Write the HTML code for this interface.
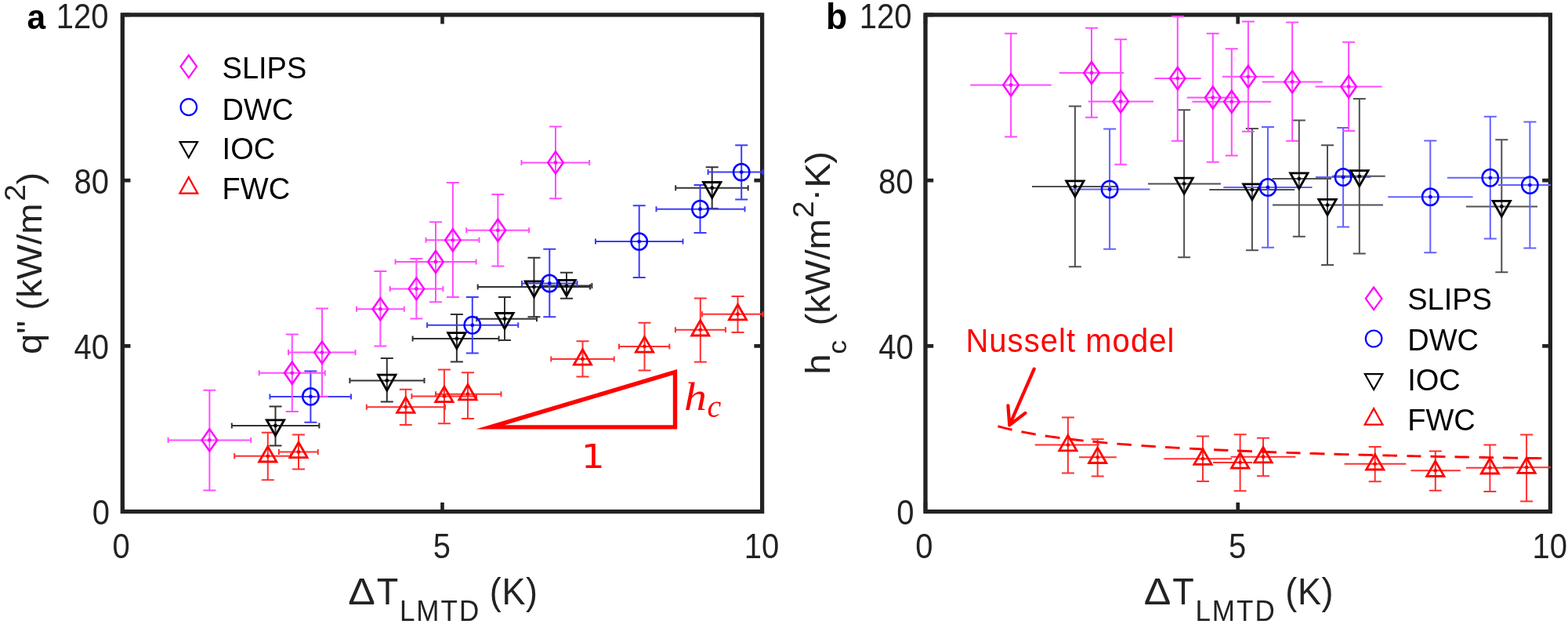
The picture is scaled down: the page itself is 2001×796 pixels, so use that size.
<!DOCTYPE html>
<html><head><meta charset="utf-8"><style>html,body{margin:0;padding:0;background:#fff;}svg{display:block;}</style></head><body>
<svg width="2001" height="796" viewBox="0 0 2001 796">
<rect width="2001" height="796" fill="#fff"/>
<rect x="156.3" y="18.9" width="816.3" height="633.7" fill="none" stroke="#222222" stroke-width="5.3"/>
<path d="M156.3 652.6V641.1M156.3 18.9V30.4M564.5 652.6V641.1M564.5 18.9V30.4M972.6 652.6V641.1M972.6 18.9V30.4M156.3 652.6H166.5M972.6 652.6H962.4M156.3 441.4H166.5M972.6 441.4H962.4M156.3 230.1H166.5M972.6 230.1H962.4M156.3 18.9H166.5M972.6 18.9H962.4" stroke="#222222" stroke-width="4.6" fill="none"/>
<rect x="1181" y="18.9" width="797.4" height="633.7" fill="none" stroke="#222222" stroke-width="5.3"/>
<path d="M1181 652.6V641.1M1181 18.9V30.4M1579.7 652.6V641.1M1579.7 18.9V30.4M1978.4 652.6V641.1M1978.4 18.9V30.4M1181 652.6H1191.2M1978.4 652.6H1968.2M1181 441.4H1191.2M1978.4 441.4H1968.2M1181 230.1H1191.2M1978.4 230.1H1968.2M1181 18.9H1191.2M1978.4 18.9H1968.2" stroke="#222222" stroke-width="4.6" fill="none"/>
<text transform="translate(154.7 711.8) scale(1 1.09)" font-family="'Liberation Sans', Arial, sans-serif" font-size="40" fill="#222222" text-anchor="middle">0</text>
<text transform="translate(563.8 711.8) scale(1 1.09)" font-family="'Liberation Sans', Arial, sans-serif" font-size="40" fill="#222222" text-anchor="middle">5</text>
<text transform="translate(971.9 711.8) scale(1 1.09)" font-family="'Liberation Sans', Arial, sans-serif" font-size="40" fill="#222222" text-anchor="middle">10</text>
<text transform="translate(140 669.4) scale(1 1.09)" font-family="'Liberation Sans', Arial, sans-serif" font-size="40" fill="#222222" text-anchor="end">0</text>
<text transform="translate(138.9 458.2) scale(1 1.09)" font-family="'Liberation Sans', Arial, sans-serif" font-size="40" fill="#222222" text-anchor="end">40</text>
<text transform="translate(138.9 246.9) scale(1 1.09)" font-family="'Liberation Sans', Arial, sans-serif" font-size="40" fill="#222222" text-anchor="end">80</text>
<text transform="translate(138.5 35.7) scale(1 1.09)" font-family="'Liberation Sans', Arial, sans-serif" font-size="40" fill="#222222" text-anchor="end">120</text>
<text transform="translate(1179.4 711.8) scale(1 1.09)" font-family="'Liberation Sans', Arial, sans-serif" font-size="40" fill="#222222" text-anchor="middle">0</text>
<text transform="translate(1579 711.8) scale(1 1.09)" font-family="'Liberation Sans', Arial, sans-serif" font-size="40" fill="#222222" text-anchor="middle">5</text>
<text transform="translate(1977.7 711.8) scale(1 1.09)" font-family="'Liberation Sans', Arial, sans-serif" font-size="40" fill="#222222" text-anchor="middle">10</text>
<text transform="translate(1166.4 669.4) scale(1 1.09)" font-family="'Liberation Sans', Arial, sans-serif" font-size="40" fill="#222222" text-anchor="end">0</text>
<text transform="translate(1165.7 458.2) scale(1 1.09)" font-family="'Liberation Sans', Arial, sans-serif" font-size="40" fill="#222222" text-anchor="end">40</text>
<text transform="translate(1165.4 246.9) scale(1 1.09)" font-family="'Liberation Sans', Arial, sans-serif" font-size="40" fill="#222222" text-anchor="end">80</text>
<text transform="translate(1163.5 35.7) scale(1 1.09)" font-family="'Liberation Sans', Arial, sans-serif" font-size="40" fill="#222222" text-anchor="end">120</text>
<path d="M341.8 551.7V612.3M299.2 581.8H371M333.8 551.7H349.8M333.8 612.3H349.8M299.2 578.3V585.3M371 578.3V585.3" stroke="#ff3030" stroke-width="2" fill="none"/>
<path d="M381 554.6V598.4M355.9 576.4H405.8M373 554.6H389M373 598.4H389M355.9 572.9V579.9M405.8 572.9V579.9" stroke="#ff3030" stroke-width="2" fill="none"/>
<path d="M517.8 496.8V542.1M467.8 519.2H568M509.8 496.8H525.8M509.8 542.1H525.8M467.8 515.7V522.7M568 515.7V522.7" stroke="#ff3030" stroke-width="2" fill="none"/>
<path d="M566.9 471.4V540.3M525.4 505.4H608M558.9 471.4H574.9M558.9 540.3H574.9M525.4 501.9V508.9M608 501.9V508.9" stroke="#ff3030" stroke-width="2" fill="none"/>
<path d="M597 475.3V534M556 502.7H639.5M589 475.3H605M589 534H605M556 499.2V506.2M639.5 499.2V506.2" stroke="#ff3030" stroke-width="2" fill="none"/>
<path d="M743.5 435.3V480.5M703.3 458H783.7M735.5 435.3H751.5M735.5 480.5H751.5M703.3 454.5V461.5M783.7 454.5V461.5" stroke="#ff3030" stroke-width="2" fill="none"/>
<path d="M822.5 411.8V472.5M790 441.9H854.3M814.5 411.8H830.5M814.5 472.5H830.5M790 438.4V445.4M854.3 438.4V445.4" stroke="#ff3030" stroke-width="2" fill="none"/>
<path d="M893.8 380.4V461.8M861.9 420.8H925.9M885.8 380.4H901.8M885.8 461.8H901.8M861.9 417.3V424.3M925.9 417.3V424.3" stroke="#ff3030" stroke-width="2" fill="none"/>
<path d="M941.5 378.1V424.1M896.1 400.7H973.5M933.5 378.1H949.5M933.5 424.1H949.5M896.1 397.2V404.2M973.5 397.2V404.2" stroke="#ff3030" stroke-width="2" fill="none"/>
<path d="M351.5 518.4V568.4M295.8 543H407.4M343.5 518.4H359.5M343.5 568.4H359.5M295.8 539.5V546.5M407.4 539.5V546.5" stroke="#333333" stroke-width="2" fill="none"/>
<path d="M493.8 457V512.5M446.4 485.4H541.5M485.8 457H501.8M485.8 512.5H501.8M446.4 481.9V488.9M541.5 481.9V488.9" stroke="#333333" stroke-width="2" fill="none"/>
<path d="M582.9 401.1V461.4M526.6 431.9H636.6M574.9 401.1H590.9M574.9 461.4H590.9M526.6 428.4V435.4M636.6 428.4V435.4" stroke="#333333" stroke-width="2" fill="none"/>
<path d="M644 379.1V433.9M608.4 406.7H685M636 379.1H652M636 433.9H652M608.4 403.2V410.2M685 403.2V410.2" stroke="#333333" stroke-width="2" fill="none"/>
<path d="M681.5 328.7V404.2M609.7 366H753M673.5 328.7H689.5M673.5 404.2H689.5M609.7 362.5V369.5M753 362.5V369.5" stroke="#333333" stroke-width="2" fill="none"/>
<path d="M723 347.8V380.7M690 364.6H755.4M715 347.8H731M715 380.7H731M690 361.1V368.1M755.4 361.1V368.1" stroke="#333333" stroke-width="2" fill="none"/>
<path d="M908.7 213.3V266.1M862.2 239.7H954.7M900.7 213.3H916.7M900.7 266.1H916.7M862.2 236.2V243.2M954.7 236.2V243.2" stroke="#333333" stroke-width="2" fill="none"/>
<path d="M396.4 473.5V538.7M344.4 505.9H448M388.4 473.5H404.4M388.4 538.7H404.4M344.4 502.4V509.4M448 502.4V509.4" stroke="#3c3cff" stroke-width="2" fill="none"/>
<path d="M602.8 379V450.4M545.1 414.8H661.3M594.8 379H610.8M594.8 450.4H610.8M545.1 411.3V418.3M661.3 411.3V418.3" stroke="#3c3cff" stroke-width="2" fill="none"/>
<path d="M701.3 317.8V404.3M666 361.5H736.5M693.3 317.8H709.3M693.3 404.3H709.3M666 358V365M736.5 358V365" stroke="#3c3cff" stroke-width="2" fill="none"/>
<path d="M815.7 262.2V353.9M760 308.1H871.5M807.7 262.2H823.7M807.7 353.9H823.7M760 304.6V311.6M871.5 304.6V311.6" stroke="#3c3cff" stroke-width="2" fill="none"/>
<path d="M893.5 236.1V297.1M837.5 266.7H950.5M885.5 236.1H901.5M885.5 297.1H901.5M837.5 263.2V270.2M950.5 263.2V270.2" stroke="#3c3cff" stroke-width="2" fill="none"/>
<path d="M946.2 185.2V254.5M903.6 219.6H973.5M938.2 185.2H954.2M938.2 254.5H954.2M903.6 216.1V223.1M973.5 216.1V223.1" stroke="#3c3cff" stroke-width="2" fill="none"/>
<path d="M267.4 497.7V625.6M214.6 561.4H320.2M259.4 497.7H275.4M259.4 625.6H275.4M214.6 557.9V564.9M320.2 557.9V564.9" stroke="#ff4dff" stroke-width="2" fill="none"/>
<path d="M372.8 426.4V524.9M330.7 475.8H414.8M364.8 426.4H380.8M364.8 524.9H380.8M330.7 472.3V479.3M414.8 472.3V479.3" stroke="#ff4dff" stroke-width="2" fill="none"/>
<path d="M411 393.4V505.8M368 449.6H453.5M403 393.4H419M403 505.8H419M368 446.1V453.1M453.5 446.1V453.1" stroke="#ff4dff" stroke-width="2" fill="none"/>
<path d="M485.4 346.1V441.6M455.1 394.3H515.8M477.4 346.1H493.4M477.4 441.6H493.4M455.1 390.8V397.8M515.8 390.8V397.8" stroke="#ff4dff" stroke-width="2" fill="none"/>
<path d="M531.4 330V406.6M497.7 368.4H565.4M523.4 330H539.4M523.4 406.6H539.4M497.7 364.9V371.9M565.4 364.9V371.9" stroke="#ff4dff" stroke-width="2" fill="none"/>
<path d="M556 283.2V385.2M504.6 334H607.6M548 283.2H564M548 385.2H564M504.6 330.5V337.5M607.6 330.5V337.5" stroke="#ff4dff" stroke-width="2" fill="none"/>
<path d="M577.9 232.9V379M543.5 306.3H611.5M569.9 232.9H585.9M569.9 379H585.9M543.5 302.8V309.8M611.5 302.8V309.8" stroke="#ff4dff" stroke-width="2" fill="none"/>
<path d="M635.4 248.1V339.4M595.2 293.8H675.2M627.4 248.1H643.4M627.4 339.4H643.4M595.2 290.3V297.3M675.2 290.3V297.3" stroke="#ff4dff" stroke-width="2" fill="none"/>
<path d="M709 161.6V253.2M665.5 207.4H752.1M701 161.6H717M701 253.2H717M665.5 203.9V210.9M752.1 203.9V210.9" stroke="#ff4dff" stroke-width="2" fill="none"/>
<polygon points="341.8,569.6 352.9,589 330.7,589" fill="none" stroke="#ff0000" stroke-width="2.8" stroke-linejoin="miter" stroke-miterlimit="10"/>
<polygon points="381,564.2 392.1,583.6 369.9,583.6" fill="none" stroke="#ff0000" stroke-width="2.8" stroke-linejoin="miter" stroke-miterlimit="10"/>
<polygon points="517.8,507 528.9,526.4 506.7,526.4" fill="none" stroke="#ff0000" stroke-width="2.8" stroke-linejoin="miter" stroke-miterlimit="10"/>
<polygon points="566.9,493.2 578,512.6 555.8,512.6" fill="none" stroke="#ff0000" stroke-width="2.8" stroke-linejoin="miter" stroke-miterlimit="10"/>
<polygon points="597,490.5 608.1,509.9 585.9,509.9" fill="none" stroke="#ff0000" stroke-width="2.8" stroke-linejoin="miter" stroke-miterlimit="10"/>
<polygon points="743.5,445.8 754.6,465.2 732.4,465.2" fill="none" stroke="#ff0000" stroke-width="2.8" stroke-linejoin="miter" stroke-miterlimit="10"/>
<polygon points="822.5,429.7 833.6,449.1 811.4,449.1" fill="none" stroke="#ff0000" stroke-width="2.8" stroke-linejoin="miter" stroke-miterlimit="10"/>
<polygon points="893.8,408.6 904.9,428 882.7,428" fill="none" stroke="#ff0000" stroke-width="2.8" stroke-linejoin="miter" stroke-miterlimit="10"/>
<polygon points="941.5,388.5 952.6,407.9 930.4,407.9" fill="none" stroke="#ff0000" stroke-width="2.8" stroke-linejoin="miter" stroke-miterlimit="10"/>
<polygon points="340.3,535.8 362.7,535.8 351.5,555.7" fill="none" stroke="#000000" stroke-width="2.8" stroke-linejoin="miter" stroke-miterlimit="10"/>
<polygon points="482.6,478.2 505,478.2 493.8,498.1" fill="none" stroke="#000000" stroke-width="2.8" stroke-linejoin="miter" stroke-miterlimit="10"/>
<polygon points="571.7,424.7 594.1,424.7 582.9,444.6" fill="none" stroke="#000000" stroke-width="2.8" stroke-linejoin="miter" stroke-miterlimit="10"/>
<polygon points="632.8,399.5 655.2,399.5 644,419.4" fill="none" stroke="#000000" stroke-width="2.8" stroke-linejoin="miter" stroke-miterlimit="10"/>
<polygon points="670.3,358.8 692.7,358.8 681.5,378.7" fill="none" stroke="#000000" stroke-width="2.8" stroke-linejoin="miter" stroke-miterlimit="10"/>
<polygon points="711.8,357.4 734.2,357.4 723,377.3" fill="none" stroke="#000000" stroke-width="2.8" stroke-linejoin="miter" stroke-miterlimit="10"/>
<polygon points="897.5,232.5 919.9,232.5 908.7,252.4" fill="none" stroke="#000000" stroke-width="2.8" stroke-linejoin="miter" stroke-miterlimit="10"/>
<ellipse cx="396.4" cy="505.9" rx="10.2" ry="10.7" fill="none" stroke="#0000ff" stroke-width="2.5"/>
<ellipse cx="602.8" cy="414.8" rx="10.2" ry="10.7" fill="none" stroke="#0000ff" stroke-width="2.5"/>
<ellipse cx="701.3" cy="361.5" rx="10.2" ry="10.7" fill="none" stroke="#0000ff" stroke-width="2.5"/>
<ellipse cx="815.7" cy="308.1" rx="10.2" ry="10.7" fill="none" stroke="#0000ff" stroke-width="2.5"/>
<ellipse cx="893.5" cy="266.7" rx="10.2" ry="10.7" fill="none" stroke="#0000ff" stroke-width="2.5"/>
<ellipse cx="946.2" cy="219.6" rx="10.2" ry="10.7" fill="none" stroke="#0000ff" stroke-width="2.5"/>
<polygon points="267.4,547.4 277.2,561.4 267.4,575.4 257.6,561.4" fill="none" stroke="#ff00ff" stroke-width="2.5" stroke-linejoin="miter"/>
<polygon points="372.8,461.8 382.6,475.8 372.8,489.8 363,475.8" fill="none" stroke="#ff00ff" stroke-width="2.5" stroke-linejoin="miter"/>
<polygon points="411,435.6 420.8,449.6 411,463.6 401.2,449.6" fill="none" stroke="#ff00ff" stroke-width="2.5" stroke-linejoin="miter"/>
<polygon points="485.4,380.3 495.2,394.3 485.4,408.3 475.6,394.3" fill="none" stroke="#ff00ff" stroke-width="2.5" stroke-linejoin="miter"/>
<polygon points="531.4,354.4 541.2,368.4 531.4,382.4 521.6,368.4" fill="none" stroke="#ff00ff" stroke-width="2.5" stroke-linejoin="miter"/>
<polygon points="556,320 565.8,334 556,348 546.2,334" fill="none" stroke="#ff00ff" stroke-width="2.5" stroke-linejoin="miter"/>
<polygon points="577.9,292.3 587.7,306.3 577.9,320.3 568.1,306.3" fill="none" stroke="#ff00ff" stroke-width="2.5" stroke-linejoin="miter"/>
<polygon points="635.4,279.8 645.2,293.8 635.4,307.8 625.6,293.8" fill="none" stroke="#ff00ff" stroke-width="2.5" stroke-linejoin="miter"/>
<polygon points="709,193.4 718.8,207.4 709,221.4 699.2,207.4" fill="none" stroke="#ff00ff" stroke-width="2.5" stroke-linejoin="miter"/>
<circle cx="341.8" cy="581.8" r="2.4" fill="#ff0000"/>
<circle cx="381" cy="576.4" r="2.4" fill="#ff0000"/>
<circle cx="517.8" cy="519.2" r="2.4" fill="#ff0000"/>
<circle cx="566.9" cy="505.4" r="2.4" fill="#ff0000"/>
<circle cx="597" cy="502.7" r="2.4" fill="#ff0000"/>
<circle cx="743.5" cy="458" r="2.4" fill="#ff0000"/>
<circle cx="822.5" cy="441.9" r="2.4" fill="#ff0000"/>
<circle cx="893.8" cy="420.8" r="2.4" fill="#ff0000"/>
<circle cx="941.5" cy="400.7" r="2.4" fill="#ff0000"/>
<circle cx="351.5" cy="543" r="2.4" fill="#000000"/>
<circle cx="493.8" cy="485.4" r="2.4" fill="#000000"/>
<circle cx="582.9" cy="431.9" r="2.4" fill="#000000"/>
<circle cx="644" cy="406.7" r="2.4" fill="#000000"/>
<circle cx="681.5" cy="366" r="2.4" fill="#000000"/>
<circle cx="723" cy="364.6" r="2.4" fill="#000000"/>
<circle cx="908.7" cy="239.7" r="2.4" fill="#000000"/>
<circle cx="396.4" cy="505.9" r="2.4" fill="#0000ff"/>
<circle cx="602.8" cy="414.8" r="2.4" fill="#0000ff"/>
<circle cx="701.3" cy="361.5" r="2.4" fill="#0000ff"/>
<circle cx="815.7" cy="308.1" r="2.4" fill="#0000ff"/>
<circle cx="893.5" cy="266.7" r="2.4" fill="#0000ff"/>
<circle cx="946.2" cy="219.6" r="2.4" fill="#0000ff"/>
<circle cx="267.4" cy="561.4" r="2.4" fill="#ff00ff"/>
<circle cx="372.8" cy="475.8" r="2.4" fill="#ff00ff"/>
<circle cx="411" cy="449.6" r="2.4" fill="#ff00ff"/>
<circle cx="485.4" cy="394.3" r="2.4" fill="#ff00ff"/>
<circle cx="531.4" cy="368.4" r="2.4" fill="#ff00ff"/>
<circle cx="556" cy="334" r="2.4" fill="#ff00ff"/>
<circle cx="577.9" cy="306.3" r="2.4" fill="#ff00ff"/>
<circle cx="635.4" cy="293.8" r="2.4" fill="#ff00ff"/>
<circle cx="709" cy="207.4" r="2.4" fill="#ff00ff"/>
<path d="M1362.9 532.6V603.4M1320.7 567.6H1403M1354.9 532.6H1370.9M1354.9 603.4H1370.9" stroke="#ff3030" stroke-width="2" fill="none"/>
<path d="M1400.7 560.2V607.4M1377 583.3H1424.8M1392.7 560.2H1408.7M1392.7 607.4H1408.7" stroke="#ff3030" stroke-width="2" fill="none"/>
<path d="M1535 556.4V614M1485.3 585.2H1572M1527 556.4H1543M1527 614H1543" stroke="#ff3030" stroke-width="2" fill="none"/>
<path d="M1582.6 554.2V626.3M1548 590H1598.2M1574.6 554.2H1590.6M1574.6 626.3H1590.6" stroke="#ff3030" stroke-width="2" fill="none"/>
<path d="M1612 558.8V607.3M1570.6 582.7H1653.3M1604 558.8H1620M1604 607.3H1620" stroke="#ff3030" stroke-width="2" fill="none"/>
<path d="M1754.7 570.1V614.2M1715.6 591.8H1794.3M1746.7 570.1H1762.7M1746.7 614.2H1762.7" stroke="#ff3030" stroke-width="2" fill="none"/>
<path d="M1831.8 575.6V625.7M1800.4 600.3H1863.9M1823.8 575.6H1839.8M1823.8 625.7H1839.8" stroke="#ff3030" stroke-width="2" fill="none"/>
<path d="M1901.4 567.4V627.1M1870.9 596.8H1932M1893.4 567.4H1909.4M1893.4 627.1H1909.4" stroke="#ff3030" stroke-width="2" fill="none"/>
<path d="M1948.1 554.6V639.5M1918 596.2H1979M1940.1 554.6H1956.1M1940.1 639.5H1956.1" stroke="#ff3030" stroke-width="2" fill="none"/>
<path d="M1371.9 135.6V340.3M1317 238H1427.2M1363.9 135.6H1379.9M1363.9 340.3H1379.9" stroke="#505050" stroke-width="2" fill="none"/>
<path d="M1511.1 140.2V328.2M1465 234.4H1557.9M1503.1 140.2H1519.1M1503.1 328.2H1519.1" stroke="#505050" stroke-width="2" fill="none"/>
<path d="M1597.9 164.1V319.2M1543.2 242.1H1652.2M1589.9 164.1H1605.9M1589.9 319.2H1605.9" stroke="#505050" stroke-width="2" fill="none"/>
<path d="M1657.8 153.6V301.7M1623.6 228H1699M1649.8 153.6H1665.8M1649.8 301.7H1665.8" stroke="#505050" stroke-width="2" fill="none"/>
<path d="M1694 185.2V337.9M1624 261.6H1764.9M1686 185.2H1702M1686 337.9H1702" stroke="#505050" stroke-width="2" fill="none"/>
<path d="M1734.8 126.1V323.6M1700 224.8H1767.7M1726.8 126.1H1742.8M1726.8 323.6H1742.8" stroke="#505050" stroke-width="2" fill="none"/>
<path d="M1916.3 178.3V347.3M1870.9 263.5H1962M1908.3 178.3H1924.3M1908.3 347.3H1924.3" stroke="#505050" stroke-width="2" fill="none"/>
<path d="M1416.1 164.5V317.8M1364.5 241.5H1467.4M1408.1 164.5H1424.1M1408.1 317.8H1424.1" stroke="#6262ff" stroke-width="2" fill="none"/>
<path d="M1618 162.1V315.8M1561.3 239H1674.5M1610 162.1H1626M1610 315.8H1626" stroke="#6262ff" stroke-width="2" fill="none"/>
<path d="M1714.1 163.1V289.4M1678.9 226H1749.2M1706.1 163.1H1722.1M1706.1 289.4H1722.1" stroke="#6262ff" stroke-width="2" fill="none"/>
<path d="M1825.3 179.6V322.2M1771.2 251.2H1879.6M1817.3 179.6H1833.3M1817.3 322.2H1833.3" stroke="#6262ff" stroke-width="2" fill="none"/>
<path d="M1901.8 148.8V304.4M1846.9 226.8H1952M1893.8 148.8H1909.8M1893.8 304.4H1909.8" stroke="#6262ff" stroke-width="2" fill="none"/>
<path d="M1952.4 155.4V316.4M1912 236.1H1979M1944.4 155.4H1960.4M1944.4 316.4H1960.4" stroke="#6262ff" stroke-width="2" fill="none"/>
<path d="M1290.1 42.7V174.6M1238.2 108.4H1341.8M1282.1 42.7H1298.1M1282.1 174.6H1298.1" stroke="#ff4dff" stroke-width="2" fill="none"/>
<path d="M1393 35.7V149.8M1351.8 93H1434.2M1385 35.7H1401M1385 149.8H1401" stroke="#ff4dff" stroke-width="2" fill="none"/>
<path d="M1430.2 50.2V209.7M1388.6 129.5H1472M1422.2 50.2H1438.2M1422.2 209.7H1438.2" stroke="#ff4dff" stroke-width="2" fill="none"/>
<path d="M1502.8 21V179.7M1473.4 100H1532.7M1494.8 21H1510.8M1494.8 179.7H1510.8" stroke="#ff4dff" stroke-width="2" fill="none"/>
<path d="M1547.8 42.7V206.7M1514.7 124.5H1580.4M1539.8 42.7H1555.8M1539.8 206.7H1555.8" stroke="#ff4dff" stroke-width="2" fill="none"/>
<path d="M1571.8 62.2V198.4M1521.4 129.8H1622.2M1563.8 62.2H1579.8M1563.8 198.4H1579.8" stroke="#ff4dff" stroke-width="2" fill="none"/>
<path d="M1592.9 27.6V167.7M1559.9 97.8H1626.2M1584.9 27.6H1600.9M1584.9 167.7H1600.9" stroke="#ff4dff" stroke-width="2" fill="none"/>
<path d="M1649.1 28.6V179.7M1610.6 104.4H1687.9M1641.1 28.6H1657.1M1641.1 179.7H1657.1" stroke="#ff4dff" stroke-width="2" fill="none"/>
<path d="M1721.1 53.8V167.1M1678.5 110.5H1763.7M1713.1 53.8H1729.1M1713.1 167.1H1729.1" stroke="#ff4dff" stroke-width="2" fill="none"/>
<polygon points="1362.9,555.4 1374,574.8 1351.8,574.8" fill="none" stroke="#ff0000" stroke-width="2.8" stroke-linejoin="miter" stroke-miterlimit="10"/>
<polygon points="1400.7,571.1 1411.8,590.5 1389.6,590.5" fill="none" stroke="#ff0000" stroke-width="2.8" stroke-linejoin="miter" stroke-miterlimit="10"/>
<polygon points="1535,573 1546.1,592.4 1523.9,592.4" fill="none" stroke="#ff0000" stroke-width="2.8" stroke-linejoin="miter" stroke-miterlimit="10"/>
<polygon points="1582.6,577.8 1593.7,597.2 1571.5,597.2" fill="none" stroke="#ff0000" stroke-width="2.8" stroke-linejoin="miter" stroke-miterlimit="10"/>
<polygon points="1612,570.5 1623.1,589.9 1600.9,589.9" fill="none" stroke="#ff0000" stroke-width="2.8" stroke-linejoin="miter" stroke-miterlimit="10"/>
<polygon points="1754.7,579.6 1765.8,599 1743.6,599" fill="none" stroke="#ff0000" stroke-width="2.8" stroke-linejoin="miter" stroke-miterlimit="10"/>
<polygon points="1831.8,588.1 1842.9,607.5 1820.7,607.5" fill="none" stroke="#ff0000" stroke-width="2.8" stroke-linejoin="miter" stroke-miterlimit="10"/>
<polygon points="1901.4,584.6 1912.5,604 1890.3,604" fill="none" stroke="#ff0000" stroke-width="2.8" stroke-linejoin="miter" stroke-miterlimit="10"/>
<polygon points="1948.1,584 1959.2,603.4 1937,603.4" fill="none" stroke="#ff0000" stroke-width="2.8" stroke-linejoin="miter" stroke-miterlimit="10"/>
<polygon points="1360.7,230.8 1383.1,230.8 1371.9,250.7" fill="none" stroke="#000000" stroke-width="2.8" stroke-linejoin="miter" stroke-miterlimit="10"/>
<polygon points="1499.9,227.2 1522.3,227.2 1511.1,247.1" fill="none" stroke="#000000" stroke-width="2.8" stroke-linejoin="miter" stroke-miterlimit="10"/>
<polygon points="1586.7,234.9 1609.1,234.9 1597.9,254.8" fill="none" stroke="#000000" stroke-width="2.8" stroke-linejoin="miter" stroke-miterlimit="10"/>
<polygon points="1646.6,220.8 1669,220.8 1657.8,240.7" fill="none" stroke="#000000" stroke-width="2.8" stroke-linejoin="miter" stroke-miterlimit="10"/>
<polygon points="1682.8,254.4 1705.2,254.4 1694,274.3" fill="none" stroke="#000000" stroke-width="2.8" stroke-linejoin="miter" stroke-miterlimit="10"/>
<polygon points="1723.6,217.6 1746,217.6 1734.8,237.5" fill="none" stroke="#000000" stroke-width="2.8" stroke-linejoin="miter" stroke-miterlimit="10"/>
<polygon points="1905.1,256.3 1927.5,256.3 1916.3,276.2" fill="none" stroke="#000000" stroke-width="2.8" stroke-linejoin="miter" stroke-miterlimit="10"/>
<ellipse cx="1416.1" cy="241.5" rx="10.2" ry="10.7" fill="none" stroke="#0000ff" stroke-width="2.5"/>
<ellipse cx="1618" cy="239" rx="10.2" ry="10.7" fill="none" stroke="#0000ff" stroke-width="2.5"/>
<ellipse cx="1714.1" cy="226" rx="10.2" ry="10.7" fill="none" stroke="#0000ff" stroke-width="2.5"/>
<ellipse cx="1825.3" cy="251.2" rx="10.2" ry="10.7" fill="none" stroke="#0000ff" stroke-width="2.5"/>
<ellipse cx="1901.8" cy="226.8" rx="10.2" ry="10.7" fill="none" stroke="#0000ff" stroke-width="2.5"/>
<ellipse cx="1952.4" cy="236.1" rx="10.2" ry="10.7" fill="none" stroke="#0000ff" stroke-width="2.5"/>
<polygon points="1290.1,94.4 1299.9,108.4 1290.1,122.4 1280.3,108.4" fill="none" stroke="#ff00ff" stroke-width="2.5" stroke-linejoin="miter"/>
<polygon points="1393,79 1402.8,93 1393,107 1383.2,93" fill="none" stroke="#ff00ff" stroke-width="2.5" stroke-linejoin="miter"/>
<polygon points="1430.2,115.5 1440,129.5 1430.2,143.5 1420.4,129.5" fill="none" stroke="#ff00ff" stroke-width="2.5" stroke-linejoin="miter"/>
<polygon points="1502.8,86 1512.6,100 1502.8,114 1493,100" fill="none" stroke="#ff00ff" stroke-width="2.5" stroke-linejoin="miter"/>
<polygon points="1547.8,110.5 1557.6,124.5 1547.8,138.5 1538,124.5" fill="none" stroke="#ff00ff" stroke-width="2.5" stroke-linejoin="miter"/>
<polygon points="1571.8,115.8 1581.6,129.8 1571.8,143.8 1562,129.8" fill="none" stroke="#ff00ff" stroke-width="2.5" stroke-linejoin="miter"/>
<polygon points="1592.9,83.8 1602.7,97.8 1592.9,111.8 1583.1,97.8" fill="none" stroke="#ff00ff" stroke-width="2.5" stroke-linejoin="miter"/>
<polygon points="1649.1,90.4 1658.9,104.4 1649.1,118.4 1639.3,104.4" fill="none" stroke="#ff00ff" stroke-width="2.5" stroke-linejoin="miter"/>
<polygon points="1721.1,96.5 1730.9,110.5 1721.1,124.5 1711.3,110.5" fill="none" stroke="#ff00ff" stroke-width="2.5" stroke-linejoin="miter"/>
<circle cx="1362.9" cy="567.6" r="2.4" fill="#ff0000"/>
<circle cx="1400.7" cy="583.3" r="2.4" fill="#ff0000"/>
<circle cx="1535" cy="585.2" r="2.4" fill="#ff0000"/>
<circle cx="1582.6" cy="590" r="2.4" fill="#ff0000"/>
<circle cx="1612" cy="582.7" r="2.4" fill="#ff0000"/>
<circle cx="1754.7" cy="591.8" r="2.4" fill="#ff0000"/>
<circle cx="1831.8" cy="600.3" r="2.4" fill="#ff0000"/>
<circle cx="1901.4" cy="596.8" r="2.4" fill="#ff0000"/>
<circle cx="1948.1" cy="596.2" r="2.4" fill="#ff0000"/>
<circle cx="1371.9" cy="238" r="2.4" fill="#000000"/>
<circle cx="1511.1" cy="234.4" r="2.4" fill="#000000"/>
<circle cx="1597.9" cy="242.1" r="2.4" fill="#000000"/>
<circle cx="1657.8" cy="228" r="2.4" fill="#000000"/>
<circle cx="1694" cy="261.6" r="2.4" fill="#000000"/>
<circle cx="1734.8" cy="224.8" r="2.4" fill="#000000"/>
<circle cx="1916.3" cy="263.5" r="2.4" fill="#000000"/>
<circle cx="1416.1" cy="241.5" r="2.4" fill="#0000ff"/>
<circle cx="1618" cy="239" r="2.4" fill="#0000ff"/>
<circle cx="1714.1" cy="226" r="2.4" fill="#0000ff"/>
<circle cx="1825.3" cy="251.2" r="2.4" fill="#0000ff"/>
<circle cx="1901.8" cy="226.8" r="2.4" fill="#0000ff"/>
<circle cx="1952.4" cy="236.1" r="2.4" fill="#0000ff"/>
<circle cx="1290.1" cy="108.4" r="2.4" fill="#ff00ff"/>
<circle cx="1393" cy="93" r="2.4" fill="#ff00ff"/>
<circle cx="1430.2" cy="129.5" r="2.4" fill="#ff00ff"/>
<circle cx="1502.8" cy="100" r="2.4" fill="#ff00ff"/>
<circle cx="1547.8" cy="124.5" r="2.4" fill="#ff00ff"/>
<circle cx="1571.8" cy="129.8" r="2.4" fill="#ff00ff"/>
<circle cx="1592.9" cy="97.8" r="2.4" fill="#ff00ff"/>
<circle cx="1649.1" cy="104.4" r="2.4" fill="#ff00ff"/>
<circle cx="1721.1" cy="110.5" r="2.4" fill="#ff00ff"/>
<path d="M1273.5 543.77L1279.5 545.38L1285.5 546.87L1291.5 548.26M1303.5 550.78L1309.6 551.95L1315.7 553.05L1321.8 554.09M1333.8 555.99L1340 556.90L1346.3 557.77L1352.5 558.60M1364 560.03L1370.2 560.75L1376.5 561.45L1382.7 562.12M1394.4 563.31L1400.7 563.92L1407.1 564.50L1413.4 565.07M1425.4 566.08L1431.6 566.58L1437.7 567.06L1443.9 567.52M1456.5 568.43L1462.6 568.85L1468.7 569.26L1474.8 569.65M1487 570.41L1493.2 570.78L1499.3 571.14L1505.5 571.49M1518 572.16L1524.2 572.49L1530.3 572.80L1536.5 573.11M1549 573.71L1555.1 573.99L1561.3 574.27L1567.4 574.54M1579 575.04L1585.3 575.30L1591.7 575.55L1598 575.80M1610 576.27L1616.3 576.50L1622.7 576.73L1629 576.96M1641.5 577.39L1647.5 577.59L1653.5 577.79L1659.5 577.98M1671.5 578.36L1677.8 578.55L1684.2 578.74L1690.5 578.93M1702.5 579.27L1708.8 579.45L1715.2 579.62L1721.5 579.79M1733.5 580.11L1739.7 580.26L1745.8 580.42L1752 580.57M1764.4 580.87L1770.6 581.02L1776.8 581.16L1783 581.30M1795.4 581.58L1801.4 581.71L1807.4 581.83L1813.4 581.96M1825.5 582.21L1831.8 582.34L1838.2 582.46L1844.5 582.58M1856.5 582.81L1862.7 582.93L1868.8 583.04L1875 583.15M1887.5 583.37L1893.7 583.48L1899.8 583.59L1906 583.69M1918 583.89L1924.3 583.99L1930.7 584.09L1937 584.19M1949 584.37L1955.1 584.47L1961.3 584.56L1967.4 584.65" fill="none" stroke="#ff0000" stroke-width="2.9" stroke-linecap="butt"/>
<path d="M1319.7 470.6L1288.3 542.4M1286.4 517.4L1288.3 542.4L1308.4 526.9" fill="none" stroke="#ff0000" stroke-width="4.2" stroke-linecap="round" stroke-linejoin="round"/>
<text transform="translate(1232.4 448.7) scale(1 1.05)" font-family="'Liberation Sans', Arial, sans-serif" font-size="40" fill="#ff0000" letter-spacing="1.05">Nusselt model</text>
<path d="M625.6 544.9L861.5 474.7V544.9Z" fill="none" stroke="#ff0000" stroke-width="5.4" stroke-linejoin="miter" stroke-miterlimit="20"/>
<text transform="translate(741.8 597.2) scale(1.07 0.975)" font-family="'DejaVu Sans', sans-serif" font-size="44" fill="#ff0000">1</text>
<text transform="translate(872.9 523) scale(1.18 1.05)" font-family="'Liberation Serif', serif" font-size="49" fill="#ff0000" font-style="italic">h</text>
<text transform="translate(902.5 532.3) scale(1.03 1)" font-family="'Liberation Serif', serif" font-size="39" fill="#ff0000" font-style="italic">c</text>
<polygon points="240.8,70.5 251.1,84.8 240.8,99.1 230.5,84.8" fill="none" stroke="#ff00ff" stroke-width="2.2" stroke-linejoin="miter"/>
<text transform="translate(283.6 100.2) scale(1 1.03)" font-family="'Liberation Sans', Arial, sans-serif" font-size="38" fill="#000000">SLIPS</text>
<ellipse cx="240.8" cy="136.6" rx="10.3" ry="10.5" fill="none" stroke="#0000ff" stroke-width="2.2"/>
<text transform="translate(283.6 152.6) scale(1 1.03)" font-family="'Liberation Sans', Arial, sans-serif" font-size="38" fill="#000000">DWC</text>
<polygon points="229.6,181.1 252,181.1 240.8,201" fill="none" stroke="#000000" stroke-width="2.2" stroke-linejoin="miter" stroke-miterlimit="10"/>
<text transform="translate(283.6 202.6) scale(1 1.03)" font-family="'Liberation Sans', Arial, sans-serif" font-size="38" fill="#000000">IOC</text>
<polygon points="240.8,226.1 252.2,246.6 229.4,246.6" fill="none" stroke="#ff0000" stroke-width="2.2" stroke-linejoin="miter" stroke-miterlimit="10"/>
<text transform="translate(283.6 254.4) scale(1 1.03)" font-family="'Liberation Sans', Arial, sans-serif" font-size="38" fill="#000000">FWC</text>
<polygon points="1753.1,366.5 1763.4,380.8 1753.1,395.1 1742.8,380.8" fill="none" stroke="#ff00ff" stroke-width="2.2" stroke-linejoin="miter"/>
<text transform="translate(1796.2 395.4) scale(1 1.03)" font-family="'Liberation Sans', Arial, sans-serif" font-size="38" fill="#000000">SLIPS</text>
<ellipse cx="1753.1" cy="432" rx="10.3" ry="10.5" fill="none" stroke="#0000ff" stroke-width="2.2"/>
<text transform="translate(1796.2 446.8) scale(1 1.03)" font-family="'Liberation Sans', Arial, sans-serif" font-size="38" fill="#000000">DWC</text>
<polygon points="1741.9,477.2 1764.3,477.2 1753.1,497.1" fill="none" stroke="#000000" stroke-width="2.2" stroke-linejoin="miter" stroke-miterlimit="10"/>
<text transform="translate(1796.2 498.3) scale(1 1.03)" font-family="'Liberation Sans', Arial, sans-serif" font-size="38" fill="#000000">IOC</text>
<polygon points="1753.1,521.1 1764.5,541.6 1741.7,541.6" fill="none" stroke="#ff0000" stroke-width="2.2" stroke-linejoin="miter" stroke-miterlimit="10"/>
<text transform="translate(1796.2 549.2) scale(1 1.03)" font-family="'Liberation Sans', Arial, sans-serif" font-size="38" fill="#000000">FWC</text>
<text transform="translate(34.5 37) scale(1 1.05)" font-family="'Liberation Sans', Arial, sans-serif" font-size="42.5" fill="#000000" font-weight="bold">a</text>
<text transform="translate(1054 37) scale(1 1.05)" font-family="'Liberation Sans', Arial, sans-serif" font-size="44.5" fill="#000000" font-weight="bold">b</text>
<text transform="translate(444.2 771.4) scale(1.15 1.065)" font-family="'Liberation Sans', Arial, sans-serif" font-size="45" fill="#222222">&#916;</text>
<text transform="translate(480.8 771.4) scale(1 1.06)" font-family="'Liberation Sans', Arial, sans-serif" font-size="45" fill="#222222">T</text>
<text transform="translate(509.9 792.3) scale(1 1.05)" font-family="'Liberation Sans', Arial, sans-serif" font-size="35" fill="#222222" letter-spacing="2">LMTD</text>
<text transform="translate(624.7 771.4) scale(1 1.05)" font-family="'Liberation Sans', Arial, sans-serif" font-size="45" fill="#222222" letter-spacing="0.7">(K)</text>
<text transform="translate(1459.7 771.4) scale(1.15 1.065)" font-family="'Liberation Sans', Arial, sans-serif" font-size="45" fill="#222222">&#916;</text>
<text transform="translate(1496.3 771.4) scale(1 1.06)" font-family="'Liberation Sans', Arial, sans-serif" font-size="45" fill="#222222">T</text>
<text transform="translate(1525.4 792.3) scale(1 1.05)" font-family="'Liberation Sans', Arial, sans-serif" font-size="35" fill="#222222" letter-spacing="2">LMTD</text>
<text transform="translate(1640.2 771.4) scale(1 1.05)" font-family="'Liberation Sans', Arial, sans-serif" font-size="45" fill="#222222" letter-spacing="0.7">(K)</text>
<text transform="translate(52.6 452) rotate(-90) scale(1.05 1)" font-family="'Liberation Sans', Arial, sans-serif" font-size="45" fill="#222222">q" (kW/m</text>
<text transform="translate(31.9 256.7) rotate(-90) scale(1.05 1)" font-family="'Liberation Sans', Arial, sans-serif" font-size="37" fill="#222222">2</text>
<text transform="translate(52.6 235.4) rotate(-90) scale(1.05 1)" font-family="'Liberation Sans', Arial, sans-serif" font-size="45" fill="#222222">)</text>
<text transform="translate(1058.5 477.7) rotate(-90) scale(1.05 1)" font-family="'Liberation Sans', Arial, sans-serif" font-size="45" fill="#222222">h</text>
<text transform="translate(1079.6 451.7) rotate(-90) scale(1.05 1)" font-family="'Liberation Sans', Arial, sans-serif" font-size="34" fill="#222222">c</text>
<text transform="translate(1058.5 415.5) rotate(-90) scale(1.05 1)" font-family="'Liberation Sans', Arial, sans-serif" font-size="45" fill="#222222">(kW/m</text>
<text transform="translate(1037.5 277.9) rotate(-90) scale(1.05 1)" font-family="'Liberation Sans', Arial, sans-serif" font-size="37" fill="#222222">2</text>
<text transform="translate(1055 256.4) rotate(-90) scale(1.05 1)" font-family="'Liberation Sans', Arial, sans-serif" font-size="45" fill="#222222">&#183;</text>
<text transform="translate(1058.5 239.6) rotate(-90) scale(1.05 1)" font-family="'Liberation Sans', Arial, sans-serif" font-size="45" fill="#222222">K</text>
<text transform="translate(1058.5 208.8) rotate(-90) scale(1.05 1)" font-family="'Liberation Sans', Arial, sans-serif" font-size="45" fill="#222222">)</text>
</svg>
</body></html>
